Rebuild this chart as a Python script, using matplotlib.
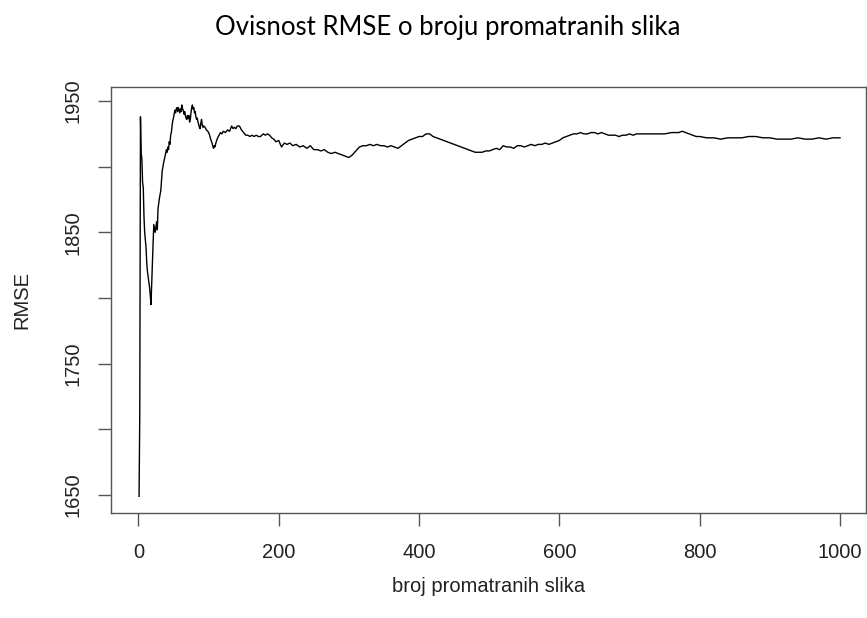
import matplotlib
matplotlib.use("Agg")
import matplotlib.pyplot as plt

# number of observed images
n_images = [1, 2, 3, 4, 5, 6, 7, 8, 9, 10, 11, 12, 13, 14, 15, 16, 17, 18, 19, 20,
            21, 22, 24, 26, 27, 28, 30, 32, 34, 36, 38,
            40, 41, 42, 43, 44, 45, 46, 47, 48, 49, 50, 51, 52, 53, 54, 55, 56, 57,
            58, 59, 60, 61, 62, 63, 64, 65, 66, 67, 68, 69, 70, 71, 72, 73, 74, 75,
            76, 77, 78, 79, 80, 81, 82, 83, 84, 85, 86, 87, 88, 89, 90, 91, 92, 93,
            95, 97, 99, 101, 103, 105, 107, 108, 109, 111, 113, 115, 117, 119, 121,
            124, 127, 130, 133, 135, 137, 139, 141, 144, 147, 150, 153, 156, 159, 162,
            165, 168, 171, 174, 178, 181, 184, 187, 190, 193, 196, 200,
            204, 208, 212, 216,
            220, 225, 230, 235, 240, 245, 250, 255, 260, 265, 270, 275, 280, 285, 290,
            295, 300, 305, 310, 315, 320, 325, 330, 335, 340, 345, 350, 355, 360, 365,
            370, 375, 380, 385, 390, 395, 400, 405, 410, 415, 420, 425, 430, 435, 440,
            445, 450, 455, 460, 465, 470, 475, 480, 485, 490, 495, 500, 505, 510, 515,
            520, 525, 530, 535, 540, 545, 550, 555, 560, 565, 570, 575, 580, 585, 590,
            595, 600, 605, 610, 615, 620, 625, 630, 635, 640, 645, 650, 655, 660, 665,
            670, 675, 680, 685, 690, 695, 700, 705, 710, 720, 730, 740, 750, 760, 770,
            775, 780, 785, 790, 795, 800, 810, 820, 830, 840, 850, 860, 870, 880, 890,
            900, 910, 920, 930, 940, 950, 960, 970, 980, 990, 1000]

rmse = [1649, 1712, 1938, 1910, 1906, 1888, 1884, 1862, 1850, 1844, 1838, 1826, 1820,
        1816, 1812, 1808, 1802, 1795, 1811, 1826, 1842, 1856, 1850, 1858, 1852, 1868,
        1876, 1882, 1897, 1903, 1908,
        1913, 1911, 1915, 1913, 1919, 1917, 1924, 1926, 1931, 1935, 1937, 1940, 1943,
        1941, 1944, 1945, 1942, 1945, 1943, 1941, 1944, 1942, 1947, 1944, 1943, 1940,
        1942, 1939, 1937, 1936, 1939, 1937, 1939, 1934, 1936, 1941, 1945, 1947, 1944,
        1945, 1941, 1942, 1938, 1936, 1937, 1934, 1932, 1930, 1929, 1933, 1936, 1932,
        1930, 1931, 1930, 1928, 1927, 1925, 1921, 1918, 1914, 1916, 1915, 1919, 1922,
        1924, 1926, 1925, 1927, 1926, 1928, 1927, 1931, 1929, 1930, 1929, 1931, 1931,
        1928, 1926, 1924, 1924, 1923, 1924, 1923, 1924, 1923, 1923, 1925, 1924, 1925,
        1924, 1922, 1921, 1919, 1920,
        1915, 1918, 1917, 1918, 1916, 1917,
        1915, 1916, 1914, 1916, 1913, 1913, 1912, 1913, 1911, 1910, 1911, 1910, 1909,
        1908, 1907, 1909, 1912, 1915, 1916, 1916, 1917, 1916, 1917, 1916, 1916, 1915,
        1916, 1915, 1914, 1916, 1918, 1920, 1921, 1922, 1923, 1923, 1925, 1925, 1923,
        1922, 1921, 1920, 1919, 1918, 1917, 1916, 1915, 1914, 1913, 1912, 1911, 1911,
        1911, 1912, 1912, 1913, 1914, 1913, 1916, 1915, 1915, 1914, 1916, 1916, 1915,
        1916, 1917, 1916, 1917, 1917, 1918, 1917, 1918, 1919, 1920, 1922, 1923, 1924,
        1925, 1925, 1926, 1925, 1925, 1926, 1926, 1925, 1926, 1925, 1924, 1924, 1924,
        1923, 1924, 1924, 1925, 1924, 1925, 1925, 1925, 1925, 1925, 1926, 1926, 1927,
        1926, 1925, 1924, 1923, 1923, 1922, 1922, 1921, 1922, 1922, 1922, 1923, 1923,
        1922, 1922, 1921, 1921, 1921, 1922, 1921, 1921, 1922, 1921, 1922, 1922]

x_ticks = [0, 200, 400, 600, 800, 1000]
y_ticks = [1650, 1700, 1750, 1800, 1850, 1900, 1950]
y_tick_labels = ["1650", "", "1750", "", "1850", "", "1950"]

W, H = 867, 618
fig = plt.figure(figsize=(W / 100, H / 100), dpi=100)
left, right, top, bottom = 111, 866, 87, 513
ax = fig.add_axes([left / W, 1 - bottom / H, (right - left) / W, (bottom - top) / H])

ax.plot(n_images, rmse, color="black", linewidth=1.0)
ax.set_xlim(-39, 1037)
ax.set_ylim(1636.3, 1960.7)

frame_col = "#555555"
for s in ax.spines.values():
    s.set_color(frame_col)
    s.set_linewidth(1.0)

tick_font = dict(family="Liberation Sans", size=14.5, color="#222222")
ax.set_xticks(x_ticks)
ax.set_xticklabels([str(v) for v in x_ticks], **tick_font)
ax.set_yticks(y_ticks)
ax.set_yticklabels(y_tick_labels, rotation=90, va="center", **tick_font)
ax.tick_params(axis="both", direction="out", length=9.5, width=1.0, color=frame_col)
ax.tick_params(axis="x", pad=12)
ax.tick_params(axis="y", pad=11)

ax.set_xlabel("broj promatranih slika", family="Liberation Sans", size=14.5, color="#222222")
ax.xaxis.set_label_coords(0.5, (bottom - 586) / (bottom - top))
ax.xaxis.label.set_va("center")
ax.set_ylabel("RMSE", family="Liberation Sans", size=14.5, color="#222222")
ax.yaxis.set_label_coords((22 - left) / (right - left), 0.5)
ax.yaxis.label.set_va("center")

fig.text(448 / W, 1 - 35 / H, "Ovisnost RMSE o broju promatranih slika",
         family="Lato", size=18.5, ha="center", va="baseline", color="black")

fig.savefig("out.png", dpi=100)
